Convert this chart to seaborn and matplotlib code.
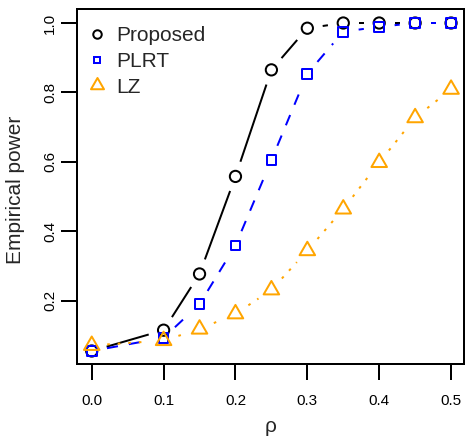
import numpy as np
import matplotlib
matplotlib.use("Agg")
import matplotlib.pyplot as plt
import seaborn as sns
from matplotlib.lines import Line2D
from matplotlib.path import Path

# ---- data -------------------------------------------------------------
rho = [0.0, 0.1, 0.15, 0.2, 0.25, 0.3, 0.35, 0.4, 0.45, 0.5]
proposed = [0.055, 0.115, 0.277, 0.558, 0.865, 0.985, 1.0, 1.0, 1.0, 1.0]
plrt = [0.055, 0.093, 0.190, 0.359, 0.605, 0.854, 0.975, 0.989, 1.0, 1.0]
lz = [0.071, 0.085, 0.118, 0.162, 0.231, 0.344, 0.464, 0.598, 0.727, 0.809]
series_names = ["Proposed", "PLRT", "LZ"]
x_ticks = [0.0, 0.1, 0.2, 0.3, 0.4, 0.5]
y_ticks = [0.2, 0.4, 0.6, 0.8, 1.0]
x_label = "ρ"
y_label = "Empirical power"

# ---- style ------------------------------------------------------------
sns.set_style("ticks")
plt.rcParams['font.family'] = ['Liberation Sans', 'DejaVu Sans']
plt.rcParams['lines.scale_dashes'] = False

W, H = 465, 440
fig = plt.figure(figsize=(W / 100, H / 100), dpi=100)
L, R, T, B = 77, 464, 9.3, 364.3
ax = fig.add_axes([L / W, 1 - B / H, (R - L) / W, (B - T) / H])
ax.set_xlim(-0.0205, 0.518)
ax.set_ylim(0.0167, 1.0395)

LW = 1.44
tri = Path([(0, 1.555), (1.347, -0.778), (-1.347, -0.778), (0, 1.555)],
           [Path.MOVETO, Path.LINETO, Path.LINETO, Path.CLOSEPOLY])
styles = [
    dict(y=proposed, color='black', marker='o', ms=8.1, lkw=dict(linestyle='-'), lms=6.1),
    dict(y=plrt, color='#0000FF', marker='s', ms=7.0, lkw=dict(dashes=(8, 8)), lms=4.7),
    dict(y=lz, color='#FFA500', marker=tri, ms=12.9, lkw=dict(dashes=(1.9, 5.7)), lms=10.8),
]

gap = 15.5  # pixels of gap around each point (R type="b")


def gapped(xs, ys, z, **kw):
    pts = ax.transData.transform(np.column_stack([xs, ys]))
    inv = ax.transData.inverted()
    for p0, p1 in zip(pts[:-1], pts[1:]):
        d = p1 - p0
        n = np.hypot(*d)
        if n <= 2 * gap:
            continue
        u = d / n
        a = inv.transform(p0 + u * gap)
        b = inv.transform(p1 - u * gap)
        ax.plot([a[0], b[0]], [a[1], b[1]], zorder=z, solid_capstyle='butt',
                dash_capstyle='butt', **kw)


for i, st in enumerate(styles):
    z = 3 + i
    gapped(rho, st['y'], z, color=st['color'], lw=LW, **st['lkw'])
    sns.scatterplot(x=rho, y=st['y'], ax=ax, marker=st['marker'], s=st['ms'] ** 2,
                    facecolors='none', edgecolor=st['color'], linewidth=LW, zorder=z)

# ---- axes -------------------------------------------------------------
ax.set_xticks(x_ticks)
ax.set_xticklabels([f"{v:.1f}" for v in x_ticks])
ax.set_yticks(y_ticks)
ax.set_yticklabels([f"{v:.1f}" for v in y_ticks])
for s in ax.spines.values():
    s.set_visible(True)
    s.set_linewidth(LW)
    s.set_color('black')
ax.tick_params(axis='both', direction='out', length=11.7, width=LW, color='black',
               labelsize=11, labelcolor='black')
ax.tick_params(axis='x', pad=9.5)
ax.tick_params(axis='y', pad=2.5, labelrotation=90)
for lab in ax.get_yticklabels():
    lab.set_va('center')

ax.set_xlabel(x_label, fontsize=15)
ax.set_ylabel(y_label, fontsize=15)
ax.xaxis.set_label_coords(0.5, (B - 417.3) / (B - T))
ax.yaxis.set_label_coords((25 - L) / (R - L), (B - 190) / (B - T))

# ---- legend -----------------------------------------------------------
handles = [Line2D([], [], ls='none', marker=st['marker'], ms=st['lms'], mec=st['color'],
                  mfc='none', mew=LW) for st in styles]
ax.legend(handles, series_names, loc='upper left', bbox_to_anchor=(0.0248, 0.952),
          frameon=False, fontsize=15, handlelength=1.0, handletextpad=0.41,
          labelspacing=0.32, borderpad=0, borderaxespad=0)

fig.savefig("out.png", dpi=100)
